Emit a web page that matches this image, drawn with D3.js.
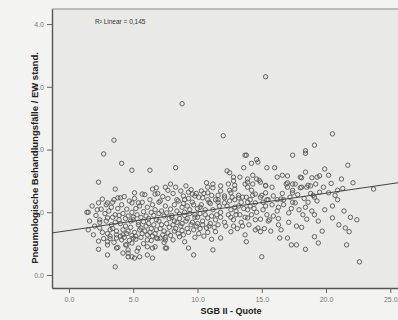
<!DOCTYPE html>
<html lang="en">
<head>
<meta charset="utf-8">
<title>Scatter</title>
<script src="https://cdn.jsdelivr.net/npm/d3@7/dist/d3.min.js"></script>
<style>
  body { margin: 0; background: #f3f3f1; }
  svg { display: block; }
</style>
</head>
<body>
<script>
// x = SGB II - Quote, y = Behandlungsfaelle / EW stand.
var xs = [15.3, 8.8, 3.5, 2.7, 12.0, 20.5, 19.1, 18.4, 18.4, 17.4, 13.7, 14.6,
  4.1, 4.9, 6.3, 2.3, 3.6, 5.1, 5.7, 6.5, 6.8, 6.7, 4.0, 2.6, 2.3, 3.0, 3.4, 4.9, 5.4, 7.5, 7.7, 7.0,
  13.8, 14.2, 14.7, 8.3, 13.6, 15.4, 16.0, 12.3, 12.5, 12.8, 12.8, 13.3, 13.9, 14.6, 16.2, 7.9, 10.7, 10.8, 11.2, 11.8, 12.5, 12.9,
  13.9, 13.9, 14.3, 14.8, 15.3, 15.8, 14.2, 14.5, 15.0, 9.3, 9.6, 10.3, 8.9, 8.4, 9.0, 9.8, 10.4, 11.1, 11.6, 12.1, 12.7, 13.2,
  13.5, 14.1, 15.4, 16.2, 16.7, 16.6,
  21.7, 19.9, 18.4, 20.2, 19.5, 19.3, 18.9, 18.1, 21.2, 22.1, 17.0, 17.0, 17.4, 19.2, 18.8, 18.5, 18.0, 17.4, 17.4, 19.5, 20.9,
  20.7, 20.2, 19.1, 23.7, 18.6, 17.4,
  14.3, 18.0, 11.2, 11.8, 12.4, 12.9, 13.7, 14.9, 15.3, 16.9, 17.0, 17.6, 18.1, 18.6, 19.0, 10.8, 11.6, 12.1, 12.6, 13.2, 13.8,
  14.3, 14.9, 15.3, 15.9, 16.5, 17.6, 10.8, 11.6, 12.1, 12.9, 13.4, 13.9, 14.5, 15.1, 15.5, 10.2, 10.6, 11.2, 11.8, 12.6, 13.0,
  13.9, 14.6, 15.1, 16.3, 10.0, 10.8, 11.4, 12.1, 12.8, 13.4, 13.9, 14.5, 14.9, 15.6, 16.3, 17.1, 18.1, 18.5, 19.1, 20.5, 21.9,
  22.4, 21.5, 21.8, 10.7, 11.4, 11.8, 12.6, 13.7, 13.8, 14.7, 14.9, 16.4, 17.0, 17.3, 17.7, 19.1, 19.4, 21.6, 18.4, 11.2, 15.0,
  22.6, 9.7, 9.3, 11.1, 15.5,
  1.5, 1.5, 2.3, 3.0, 3.6, 2.3, 1.9, 2.4, 3.0, 3.6, 3.3, 6.5, 6.1, 5.5, 5.1, 4.6, 4.2, 3.7, 3.0, 3.0, 4.4, 3.7, 4.9, 5.4, 6.1,
  6.7, 7.5, 7.1, 6.1, 5.0, 3.8, 2.9, 2.2, 2.4, 2.4, 3.2, 3.7, 4.2, 4.5, 4.6, 4.9, 6.5, 7.6, 6.8, 7.5, 8.1, 8.6, 9.0,
  1.4, 1.6, 1.8,
  2.1, 2.0, 2.5, 2.6, 2.8, 2.9, 2.7,
  3.1, 3.2, 3.0, 3.3, 3.4, 3.2, 3.5, 3.6, 3.4, 3.5, 3.8, 3.9, 3.7, 3.8, 3.9, 4.0,
  4.1, 4.2, 4.0, 4.1, 4.3, 4.4, 4.2, 4.3, 4.5, 4.6, 4.4, 4.5, 4.6, 4.7, 4.8, 4.6, 4.7, 4.9, 5.0, 4.8, 4.9,
  5.1, 5.2, 5.0, 5.1, 5.2, 5.3, 5.4, 5.2, 5.3, 5.5, 5.6, 5.4, 5.5, 5.6, 5.7, 5.8, 5.6, 5.7, 5.8, 5.9, 6.0, 5.8, 5.9,
  6.1, 6.2, 6.0, 6.1, 6.3, 6.4, 6.2, 6.3, 6.4, 6.5, 6.6, 6.4, 6.5, 6.7, 6.8, 6.6, 6.7, 6.9, 7.0, 6.8, 6.9,
  7.1, 7.2, 7.0, 7.1, 7.3, 7.4, 7.2, 7.3, 7.4, 7.5, 7.6, 7.4, 7.5, 7.7, 7.8, 7.6, 7.7, 7.9, 8.0, 7.8, 7.9,
  8.1, 8.2, 8.0, 8.1, 8.2, 8.3, 8.4, 8.2, 8.3, 8.5, 8.6, 8.4, 8.5, 8.7, 8.8, 8.6, 8.7, 8.8, 8.9, 9.0, 8.8, 8.9,
  9.1, 9.2, 9.0, 9.1, 9.2, 9.3, 9.4, 9.2, 9.3, 9.5, 9.6, 9.4, 9.5, 9.7, 9.8, 9.6, 9.7, 9.8, 9.9, 10.0, 9.8, 9.9,
  10.1, 10.2, 10.0, 10.1, 10.3, 10.4, 10.2, 10.5, 10.6, 10.4, 10.5, 10.9, 11.0, 10.8,
  11.0, 11.1, 10.9, 11.4, 11.5, 11.3, 11.7, 11.8, 11.6, 12.3, 12.4, 12.2, 12.5, 12.6, 12.9, 13.0, 12.8,
  13.2, 13.3, 13.1, 13.6, 13.7, 13.5, 14.1, 14.2, 14.0, 14.4, 14.5, 15.3, 15.4, 15.2, 15.8, 15.9, 15.7,
  16.2, 16.3, 16.6, 16.7, 16.5, 17.2, 17.3, 17.1, 17.8, 17.9, 17.7, 18.3, 18.4, 18.2, 18.8, 18.9,
  19.3, 19.4, 19.8, 19.9, 19.7, 20.4, 20.5, 20.9, 21.0, 21.3, 21.4];

var ys = [3.16, 2.73, 2.15, 1.93, 2.22, 2.25, 2.07, 1.98, 1.94, 1.91, 1.91, 1.84,
  1.78, 1.67, 1.67, 1.48, 1.37, 1.31, 1.29, 1.37, 1.39, 1.29, 1.23, 1.21, 1.15, 1.15, 1.16, 1.15, 1.15, 1.40, 1.35, 1.16,
  1.91, 1.78, 1.80, 1.71, 1.71, 1.71, 1.71, 1.66, 1.63, 1.56, 1.50, 1.56, 1.53, 1.53, 1.56, 1.45, 1.47, 1.40, 1.39, 1.34, 1.35, 1.37,
  1.48, 1.40, 1.45, 1.51, 1.43, 1.40, 1.35, 1.29, 1.27, 1.32, 1.29, 1.34, 1.26, 1.20, 1.20, 1.26, 1.23, 1.27, 1.20, 1.23, 1.24, 1.23,
  1.24, 1.20, 1.20, 1.20, 1.20, 1.59,
  1.75, 1.69, 1.64, 1.59, 1.58, 1.56, 1.55, 1.55, 1.53, 1.47, 1.58, 1.47, 1.45, 1.45, 1.42, 1.40, 1.39, 1.35, 1.31, 1.32, 1.35,
  1.27, 1.31, 1.24, 1.37, 1.16, 1.16,
  1.59, 1.56, 1.45, 1.42, 1.45, 1.43, 1.45, 1.48, 1.42, 1.45, 1.40, 1.45, 1.40, 1.43, 1.27, 1.31, 1.27, 1.26, 1.31, 1.27, 1.24,
  1.27, 1.24, 1.31, 1.26, 1.21, 1.15, 1.20, 1.16, 1.15, 1.20, 1.16, 1.16, 1.15, 1.16, 1.20, 1.08, 1.04, 1.04, 1.00, 1.04, 1.02,
  1.04, 1.00, 1.04, 1.08, 0.92, 0.91, 0.88, 0.84, 0.88, 0.84, 0.91, 0.88, 0.89, 0.88, 0.80, 0.99, 0.76, 0.89, 0.96, 0.91, 0.92,
  0.88, 0.75, 0.69, 0.75, 0.69, 0.59, 0.69, 0.64, 0.53, 0.75, 0.69, 0.59, 0.59, 0.48, 0.48, 0.61, 0.51, 0.48, 0.41, 0.40, 0.29,
  0.21, 0.32, 0.43, 0.57, 0.86,
  1.00, 0.72, 0.41, 0.32, 0.13, 0.54, 0.64, 0.88, 0.91, 0.96, 0.80, 0.27, 0.32, 0.29, 0.27, 0.29, 0.35, 0.43, 0.48, 0.53, 0.48,
  0.59, 0.51, 0.43, 0.45, 0.45, 0.43, 0.59, 0.56, 0.59, 1.23, 1.12, 1.04, 0.84, 0.75, 0.62, 0.64, 0.64, 0.48, 0.35, 0.29,
  0.43, 0.43, 0.59, 0.56, 0.56, 0.61, 0.53,
  1.00, 0.86, 1.10,
  0.95, 0.78, 1.05, 0.68, 0.98, 0.86, 0.58,
  1.02, 0.72, 0.66, 1.08, 0.92, 0.58, 1.20, 0.84, 0.74, 0.52, 1.06, 0.95, 0.70, 0.44, 0.88, 0.62,
  1.12, 0.98, 0.82, 0.56, 1.25, 0.90, 0.72, 0.60, 1.05, 0.94, 0.78, 0.66, 0.40, 1.18, 0.86, 0.70, 0.55, 1.00, 0.92, 0.76, 0.63,
  1.22, 1.06, 0.88, 0.68, 0.57, 0.96, 0.80, 0.62, 0.38, 1.10, 0.92, 0.84, 0.72, 0.60, 1.16, 1.01, 0.75, 0.66, 0.50, 1.28, 0.94, 0.85, 0.70,
  1.08, 0.90, 0.78, 0.64, 1.20, 1.00, 0.82, 0.68, 0.55, 1.12, 0.95, 0.74, 0.62, 1.04, 0.88, 0.80, 0.66, 1.30, 0.98, 0.72, 0.58,
  1.18, 1.02, 0.86, 0.74, 1.25, 0.94, 0.80, 0.64, 0.52, 1.10, 0.99, 0.70, 0.60, 1.22, 0.90, 0.82, 0.67, 1.05, 0.95, 0.76, 0.63,
  1.30, 1.12, 0.92, 0.80, 0.70, 1.40, 1.02, 0.86, 0.74, 1.18, 0.97, 0.84, 0.66, 1.34, 1.08, 0.90, 0.78, 0.71, 1.14, 1.00, 0.82, 0.64,
  1.42, 1.10, 0.95, 0.86, 0.74, 1.22, 1.04, 0.90, 0.68, 1.36, 1.16, 0.98, 0.80, 1.12, 0.92, 0.84, 0.72, 0.60, 1.30, 1.06, 0.96, 0.78,
  1.24, 0.98, 0.82, 0.66, 1.12, 0.86, 0.74, 1.30, 0.96, 0.80, 0.62, 1.16, 0.82, 0.68,
  1.14, 0.94, 0.78, 1.20, 0.96, 0.76, 1.10, 0.92, 0.80, 1.10, 0.96, 0.78, 1.18, 0.92, 1.08, 0.96, 0.78,
  1.10, 0.96, 0.74, 1.06, 0.92, 0.78, 1.10, 0.96, 0.80, 1.06, 0.72, 1.10, 0.96, 0.74, 1.12, 0.94, 0.70,
  1.02, 0.90, 1.30, 1.12, 0.72, 1.24, 1.06, 0.84, 1.28, 1.04, 0.78, 1.22, 1.08, 0.96, 1.30, 1.02,
  1.18, 0.86, 1.40, 1.04, 0.70, 1.46, 1.10, 1.20, 0.80, 1.38, 1.02];

var xTicks = [0, 5, 10, 15, 20, 25];
var yTicks = [0, 1, 2, 3, 4];
var fitIntercept = 0.71;
var fitSlope = 0.0297;
var r2Label = "R² Linear = 0,145";

var dataset = xs.map(function (d, i) { return { x: d, y: ys[i] }; });

var w = 398;
var h = 320;
var plotLeft = 52, plotRight = 398, plotTop = 9, plotBottom = 288;

var xScale = d3.scaleLinear()
  .domain([-1.32, 25.6])
  .range([plotLeft, plotRight]);

var yScale = d3.scaleLinear()
  .domain([-0.207, 4.24])
  .range([plotBottom, plotTop]);

var svg = d3.select("body")
  .append("svg")
  .attr("width", w)
  .attr("height", h);

// plot background
svg.append("rect")
  .attr("x", plotLeft)
  .attr("y", plotTop)
  .attr("width", plotRight - plotLeft)
  .attr("height", plotBottom - plotTop)
  .attr("fill", "#e9e9e7");

// top frame line
svg.append("line")
  .attr("x1", plotLeft).attr("x2", plotRight)
  .attr("y1", plotTop).attr("y2", plotTop)
  .attr("stroke", "#8a8a8a")
  .attr("stroke-width", 1.2);

// axes
var xAxis = d3.axisBottom(xScale)
  .tickValues(xTicks)
  .tickSize(5)
  .tickSizeOuter(0)
  .tickFormat(d3.format(".1f"));

var yAxis = d3.axisLeft(yScale)
  .tickValues(yTicks)
  .tickSize(5)
  .tickSizeOuter(0)
  .tickFormat(d3.format(".1f"));

var gx = svg.append("g")
  .attr("transform", "translate(0," + plotBottom + ")")
  .call(xAxis);

var gy = svg.append("g")
  .attr("transform", "translate(" + plotLeft + ",0)")
  .call(yAxis);

[gx, gy].forEach(function (g) {
  g.select(".domain").attr("stroke", "#555").attr("stroke-width", 1.4);
  g.selectAll(".tick line").attr("stroke", "#666");
  g.selectAll(".tick text")
    .attr("fill", "#777")
    .attr("font-family", "Liberation Sans, Arial, sans-serif")
    .attr("font-size", "7px");
});
gx.selectAll(".tick text").attr("dy", "0.9em");

// points
svg.append("g")
  .selectAll("circle")
  .data(dataset)
  .enter()
  .append("circle")
  .attr("cx", function (d) { return xScale(d.x); })
  .attr("cy", function (d) { return yScale(d.y); })
  .attr("r", 2.2)
  .attr("fill", "none")
  .attr("stroke", "#555")
  .attr("stroke-width", 0.9);

// linear fit
var xd = xScale.domain();
svg.append("line")
  .attr("x1", xScale(xd[0]))
  .attr("y1", yScale(fitIntercept + fitSlope * xd[0]))
  .attr("x2", xScale(xd[1]))
  .attr("y2", yScale(fitIntercept + fitSlope * xd[1]))
  .attr("stroke", "#444")
  .attr("stroke-width", 1);

// R2 label
svg.append("text")
  .attr("x", 95)
  .attr("y", 24)
  .attr("font-family", "Liberation Sans, Arial, sans-serif")
  .attr("font-size", "6.5px")
  .attr("fill", "#333")
  .text(r2Label);

// x axis label
svg.append("text")
  .attr("x", 231)
  .attr("y", 314)
  .attr("text-anchor", "middle")
  .attr("font-family", "Liberation Sans, Arial, sans-serif")
  .attr("font-weight", "bold")
  .attr("font-size", "9px")
  .attr("fill", "#222")
  .text("SGB II - Quote");

// y axis label
svg.append("text")
  .attr("transform", "translate(38," + 158 + ") rotate(-90)")
  .attr("text-anchor", "middle")
  .attr("font-family", "Liberation Sans, Arial, sans-serif")
  .attr("font-weight", "bold")
  .attr("font-size", "9.5px")
  .attr("fill", "#222")
  .text("Pneumologische Behandlungsfälle / EW stand.");
</script>
</body>
</html>
